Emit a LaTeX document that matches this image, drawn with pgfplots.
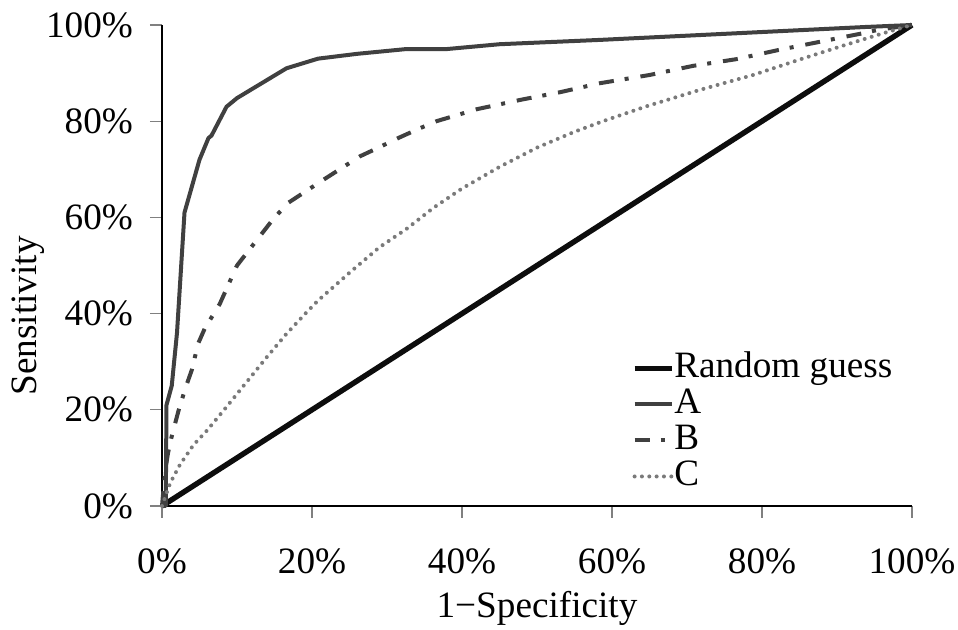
\documentclass[border=0pt]{standalone}
\usepackage{fontspec}
\setmainfont{Liberation Serif}
\usepackage{pgfplots}
\pgfplotsset{compat=1.18}
\definecolor{cA}{HTML}{404040}
\definecolor{cB}{HTML}{404040}
\definecolor{cC}{HTML}{7A7A7A}
\definecolor{cR}{HTML}{0D0D0D}
\definecolor{tickgray}{HTML}{808080}
\newcommand{\fs}{\fontsize{18.6}{22}\selectfont}
\begin{document}
\begin{tikzpicture}
\begin{axis}[
  scale only axis,
  width=375pt, height=240.5pt,
  xmin=0, xmax=100, ymin=0, ymax=100,
  clip=false,
  axis lines=left,
  axis line style={-, black, line width=0.8pt},
  xtick={0,20,...,100}, ytick={0,20,...,100},
  tick align=outside,
  major tick length=6pt,
  tick style={tickgray, line width=0.6pt},
  /pgf/number format/assume math mode=true,
  xticklabel={\pgfmathprintnumber{\tick}\%},
  yticklabel={\pgfmathprintnumber{\tick}\%},
  tick label style={font=\fs},
  xticklabel style={yshift=-12pt},
  yticklabel style={xshift=-5pt},
  label style={font=\fs},
  xlabel={1−Specificity},
  ylabel={Sensitivity},
  xlabel style={at={(axis description cs:0.5,-0.212)}, anchor=center},
  ylabel style={at={(axis description cs:-0.179,0.395)}, anchor=center},
  legend style={draw=none, fill=none, font=\fs, inner sep=0pt,
    at={(axis cs:62.6,32)}, anchor=north west,
    nodes={inner sep=0pt, text height=12.5pt, text depth=3.5pt},
    row sep=2pt},
  legend cell align=left,
  legend image code/.code={\draw[#1] (0pt,0pt) -- (18.5pt,0pt);},
  every axis legend/.append style={/tikz/every even column/.append style={column sep=0pt}},
]
\addplot[cR, line width=2.7pt] coordinates {(0,0) (100,100)};
\addlegendentry{Random guess}
\addplot[cA, line width=2pt, line join=round] coordinates {
(0,0) (0.5,0) (0.6,21) (1.3,25) (2,36) (3,61) (4,66.5) (5,72) (6.2,76.5) (6.6,77)
(8.6,83) (10,84.8) (16.6,91) (20.8,93) (26,94) (32.6,95) (38,95) (45,96)
(58.4,96.9) (94,99.6) (100,100)};
\addlegendentry{A}
\addplot[cB, line width=2pt, dash pattern=on 7.5pt off 5.5pt on 2pt off 6pt] coordinates {
(0,0) (0.4,7) (0.8,11) (1.3,14.5) (2.2,19.8) (3.1,24.4) (4,28.4) (4.8,33.7) (5.7,36.9)
(7.7,42) (10,50) (12.4,54.8) (14.8,59.6) (16.8,63) (21.3,67.6) (24,70.3) (26.4,72.7)
(29,74.6) (31.5,76.5) (34.2,78.4) (36.6,80) (42,82.5) (48,84.5) (53,86) (58.4,87.9)
(65,89.6) (70.8,91.5) (76.6,92.9) (82.2,94.8) (87.7,96.5) (93.5,98.3) (95.5,99) (100,100)};
\addlegendentry{B}
\addplot[cC, line width=2pt, line cap=round, dash pattern=on 0pt off 3.67pt] coordinates {
(0,0) (1.1,4.8) (2.4,8.6) (4.2,12.7) (6,15.7) (8.6,20.6) (11.3,25.8) (14,31) (16.6,35.8)
(19.3,40.3) (20.8,42.7) (25,48.5) (29,53.8) (32.6,57.6) (36.2,62) (40,66) (45,70.5)
(50,74.5) (55,77.8) (58.8,80) (64.6,83.1) (71.7,86.5) (78.8,89.6) (85,92.8) (90.8,95.7)
(96.2,98.3) (100,100)};
\addlegendentry{C}
\end{axis}
\pgfresetboundingbox
\path (-81pt,-62pt) rectangle (398pt,253pt);
\end{tikzpicture}
\end{document}
